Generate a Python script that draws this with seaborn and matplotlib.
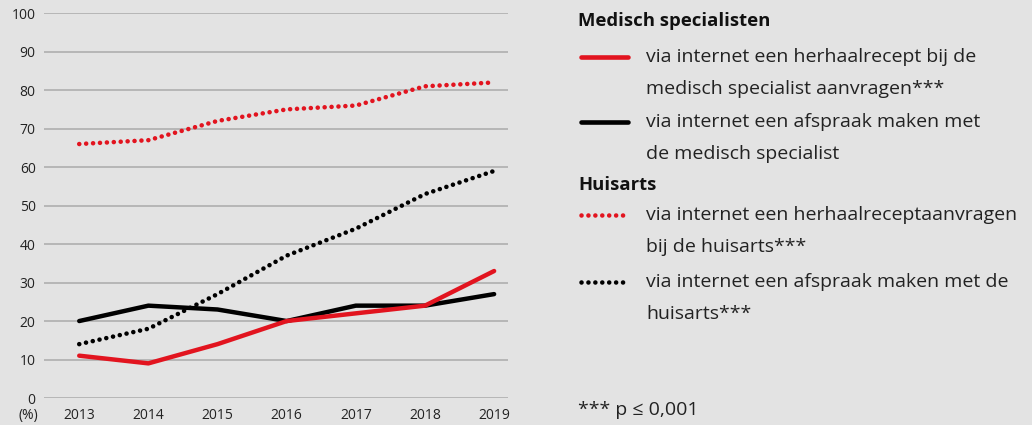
import pandas as pd
import seaborn as sns
import matplotlib.pyplot as plt
from matplotlib.lines import Line2D

years = [2013, 2014, 2015, 2016, 2017, 2018, 2019]
# Medisch specialisten
spec_recept = [11, 9, 14, 20, 22, 24, 33]
spec_afspraak = [20, 24, 23, 20, 24, 24, 27]
# Huisarts
ha_recept = [66, 67, 72, 75, 76, 81, 82]
ha_afspraak = [14, 18, 27, 37, 44, 53, 59]

y_ticks = [0, 10, 20, 30, 40, 50, 60, 70, 80, 90, 100]

RED = '#e2141f'
BLACK = '#000000'
BG = '#e3e3e3'
DOTS = (0, (0.01, 1.5))

sns.set_theme(style='white')
plt.rcParams['font.family'] = ['Open Sans', 'DejaVu Sans']

fig = plt.figure(figsize=(10.32, 4.25), dpi=100, facecolor=BG)
ax = fig.add_axes([0.0426, 0.0635, 0.4496, 0.9055])
ax.set_facecolor(BG)

df = pd.DataFrame({'jaar': years, 'spec_recept': spec_recept, 'spec_afspraak': spec_afspraak,
                   'ha_recept': ha_recept, 'ha_afspraak': ha_afspraak})

sns.lineplot(data=df, x='jaar', y='spec_afspraak', color=BLACK, lw=3.2, ax=ax,
             solid_capstyle='round')
sns.lineplot(data=df, x='jaar', y='spec_recept', color=RED, lw=3.2, ax=ax,
             solid_capstyle='round')
sns.lineplot(data=df, x='jaar', y='ha_afspraak', color=BLACK, lw=3.3, ax=ax,
             linestyle=DOTS, dash_capstyle='round')
sns.lineplot(data=df, x='jaar', y='ha_recept', color=RED, lw=3.3, ax=ax,
             linestyle=DOTS, dash_capstyle='round')

ax.set_xlim(2012.49, 2019.2)
ax.set_ylim(0, 100)
ax.set_yticks(y_ticks)
ax.set_yticklabels([str(t) for t in y_ticks])
ax.get_yticklabels()[0].set_color('#999999')
ax.set_xticks(years)
ax.yaxis.grid(True, color='#b3b3b3', lw=1.3)
ax.set_axisbelow(True)
for s in ax.spines.values():
    s.set_visible(False)
ax.tick_params(axis='both', length=0, labelsize=10, colors='#222222')
ax.tick_params(axis='x', pad=7)
ax.tick_params(axis='y', pad=6)
ax.set_xlabel('')
ax.set_ylabel('')
fig.text(28 / 1032, 1 - 416 / 425, '(%)', fontsize=10, color='#222222', ha='center', va='center')

# legend, drawn by hand
def px(x, y):
    return x / 1032, 1 - y / 425

txt = dict(fontsize=14, color='#222222', va='center')
head = dict(fontsize=13.3, fontweight='bold', color='#111111', va='center')
fig.text(*px(578, 21), 'Medisch specialisten', **head)
fig.text(*px(578, 185), 'Huisarts', **head)

entries = [
    (57, RED, '-', ['via internet een herhaalrecept bij de', 'medisch specialist aanvragen***']),
    (122, BLACK, '-', ['via internet een afspraak maken met', 'de medisch specialist']),
    (215, RED, DOTS, ['via internet een herhaalreceptaanvragen', 'bij de huisarts***']),
    (282, BLACK, DOTS, ['via internet een afspraak maken met de', 'huisarts***']),
]
for y, c, ls, lines in entries:
    x0, y0 = px(581, y)
    x1, _ = px(628, y)
    fig.add_artist(Line2D([x0, x1], [y0, y0], color=c, lw=3.3, linestyle=ls,
                          solid_capstyle='round', dash_capstyle='round'))
    for i, line in enumerate(lines):
        fig.text(*px(646, y + i * 32), line, **txt)

fig.text(*px(578, 410), '*** p ≤ 0,001', **txt)

fig.savefig('out.png', dpi=100, facecolor=BG)
